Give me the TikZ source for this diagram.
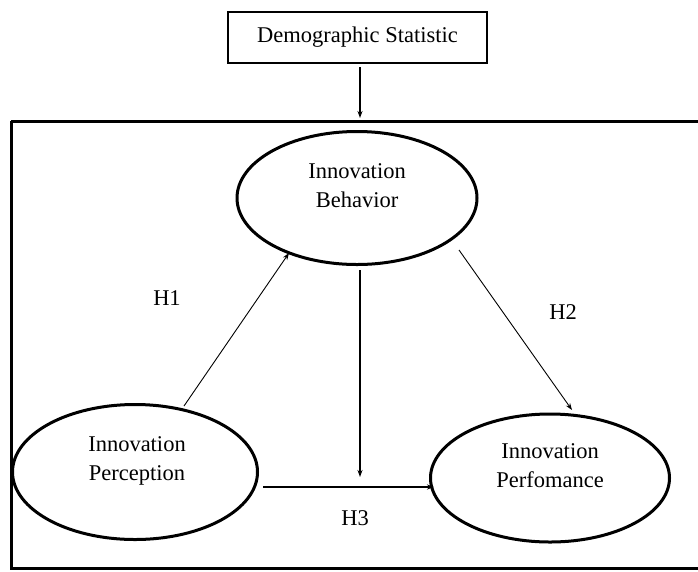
\documentclass[tikz,border=0pt]{standalone}
\usepackage{fontspec}
\setmainfont{Liberation Serif}
\usetikzlibrary{shapes.geometric,arrows.meta}
\begin{document}
\begin{tikzpicture}[x=1pt,y=-1pt,
  every node/.style={font=\fontsize{22.5}{29}\selectfont},
  oval/.style={draw,line width=3pt,ellipse,inner sep=0pt},
  thinarrow/.style={line width=0.9pt,-{Stealth[length=7pt,width=5pt]}},
  midarrow/.style={line width=1.5pt,-{Stealth[length=7pt,width=5pt]}},
  lbl/.style={align=center}]
\useasboundingbox (0,0) rectangle (698,571);
\fill[white] (0,0) rectangle (698,571);
% outer frame
\draw[line width=3pt] (11,121) -- (700,121);
\draw[line width=3pt] (11,121) -- (11,568) -- (700,568);
% demographic box
\node[draw,line width=1.8pt,minimum width=259pt,minimum height=51pt,inner sep=0pt] (demo) at (357.5,37.5) {Demographic Statistic};
\coordinate (frametop) at (360,118);
\draw[midarrow] (360,67) -- (frametop);
% ellipses
\node[oval,minimum width=240pt,minimum height=133pt] (beh) at (357,198) {};
\node[oval,minimum width=245pt,minimum height=135pt] (per) at (135,472) {};
\node[oval,minimum width=239pt,minimum height=128pt] (perf) at (550,478) {};
% labels in ellipses
\node[lbl] (behT) at (357,186) {Innovation\\Behavior};
\node[lbl] (perT) at (137,461) {Innovation\\Perception};
\node[lbl] (perfT) at (550,466) {Innovation\\Perfomance};
% arrows
\coordinate (h1s) at (184,406);
\coordinate (h1e) at (289,253);
\coordinate (h2s) at (459,250);
\coordinate (h2e) at (572,410);
\coordinate (vs) at (360,270);
\coordinate (ve) at (360,477);
\coordinate (hs) at (263,487);
\coordinate (he) at (434,487);
\draw[thinarrow] (h1s) -- (h1e);
\draw[thinarrow] (h2s) -- (h2e);
\draw[midarrow] (vs) -- (ve);
\draw[midarrow] (hs) -- (he);
% hypothesis labels
\node (H1) at (167,298) {H1};
\node (H2) at (563,312) {H2};
\node (H3) at (355,518) {H3};
\end{tikzpicture}
\end{document}
